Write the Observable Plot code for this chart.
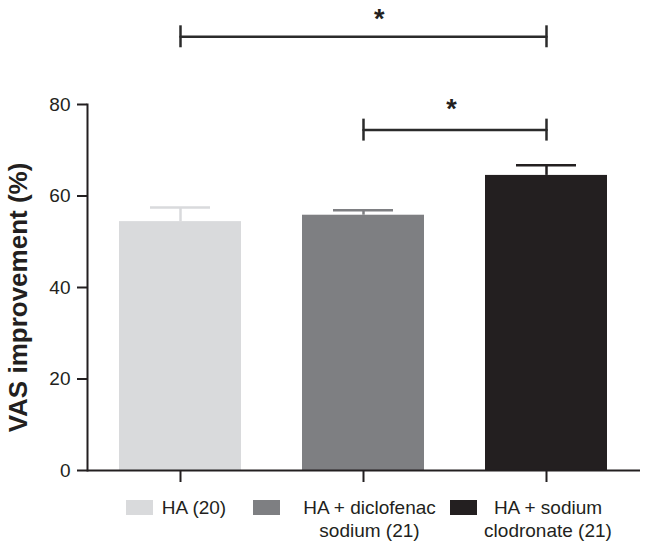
<!DOCTYPE html>
<html>
<head>
<meta charset="utf-8">
<script src="https://cdn.jsdelivr.net/npm/d3@7"></script>
<script src="https://cdn.jsdelivr.net/npm/@observablehq/plot@0.6"></script>
<style>
  html, body { margin: 0; padding: 0; background: #fff; }
  #wrap { position: relative; width: 648px; height: 550px; font-family: "Liberation Sans", Arial, sans-serif; color: #231f20; }
  #chart { position: absolute; left: 0; top: 0; }
  .sw { position: absolute; width: 27px; height: 15px; }
  .lt { position: absolute; font-size: 19px; line-height: 23px; white-space: nowrap; text-align: center; }
</style>
</head>
<body>
<div id="wrap">
  <div id="chart"></div>
  <div id="legend"></div>
</div>
<script>
// ---- data ----
const categories = ["HA (20)", "HA + diclofenac sodium (21)", "HA + sodium clodronate (21)"];
const legendLines = [["HA (20)"], ["HA + diclofenac", "sodium (21)"], ["HA + sodium", "clodronate (21)"]];
const means = [54.4, 55.8, 64.5];
const errors = [3.1, 1.1, 2.2];
const colors = ["#d9dadc", "#7e7f82", "#231f20"];
const yTicks = [0, 20, 40, 60, 80];
// significance brackets: from/to category index, bracket level, star label level,
// star position along the bracket (fraction of its span)
const sigFrom = [0, 1];
const sigTo = [2, 2];
const sigLevel = [94.8, 74.4];
const sigStar = [96.8, 77.0];
const sigStarPos = [0.54, 0.478];

// ---- layout ----
const W = 648, H = 490;
const mL = 87, mR = 8, mT = 104, mB = 20;
const padIn = 0.332, padOut = 0.169;
const step = (W - mL - mR) / (categories.length - padIn + 2 * padOut);

const bars = categories.map((c, i) => ({cat: c, mean: means[i], err: errors[i], color: colors[i]}));
const bracketLines = [];
const bracketEnds = [];
const starMarks = [];
sigFrom.forEach((f, k) => {
  const t = sigTo[k];
  bracketLines.push({id: k, cat: categories[f], y: sigLevel[k]});
  bracketLines.push({id: k, cat: categories[t], y: sigLevel[k]});
  bracketEnds.push({cat: categories[f], y: sigLevel[k]});
  bracketEnds.push({cat: categories[t], y: sigLevel[k]});
  starMarks.push(Plot.text([{cat: categories[f], y: sigStar[k]}], {
    x: "cat", y: "y", text: () => "*", dx: sigStarPos[k] * (t - f) * step,
    fontSize: 27, fontWeight: "bold", fill: "#231f20", lineAnchor: "bottom"
  }));
});

const ink = "#231f20";

const plot = Plot.plot({
  width: W,
  height: H,
  marginLeft: mL,
  marginRight: mR,
  marginTop: mT,
  marginBottom: mB,
  style: {fontFamily: "'Liberation Sans', Arial, sans-serif", color: ink, background: "#fff", overflow: "visible"},
  x: {domain: categories, paddingInner: padIn, paddingOuter: padOut, axis: null},
  y: {domain: [0, 80], axis: null},
  marks: [
    Plot.barY(bars, {x: "cat", y: "mean", fill: "color"}),
    // error bars
    Plot.ruleX(bars, {x: "cat", y1: "mean", y2: d => d.mean + d.err, stroke: "color", strokeWidth: 2.5}),
    Plot.tickY(bars, {x: "cat", y: d => d.mean + d.err, stroke: "color", strokeWidth: 2.5, insetLeft: 31, insetRight: 31}),
    // axes
    Plot.axisY({ticks: yTicks, tickSize: 10, tickPadding: 7, fontSize: 19, label: null, stroke: ink, strokeWidth: 2, color: ink}),
    Plot.frame({anchor: "left", stroke: ink, strokeWidth: 2}),
    Plot.ruleY([0], {stroke: ink, strokeWidth: 2}),
    Plot.axisX({tickSize: 12, tickFormat: () => "", label: null, stroke: ink, strokeWidth: 2}),
    // y label
    Plot.text(["VAS improvement (%)"], {frameAnchor: "left", rotate: -90, dx: -69, dy: 10, fontSize: 26, fontWeight: "bold", fill: ink, lineAnchor: "middle", textAnchor: "middle"}),
    // significance brackets
    Plot.line(bracketLines, {x: "cat", y: "y", z: "id", stroke: "#2b2b2b", strokeWidth: 2.5}),
    Plot.ruleX(bracketEnds, {x: "cat", y1: d => d.y - 2.4, y2: d => d.y + 2.4, stroke: "#2b2b2b", strokeWidth: 2.5}),
    ...starMarks
  ]
});
document.getElementById("chart").appendChild(plot);

// ---- legend (HTML below the plot) ----
const legendSwatchLeft = [126, 253, 450];
const legendTextCenter = [194, 369.5, 548];
const legend = document.getElementById("legend");
legendLines.forEach((lines, i) => {
  const sw = document.createElement("div");
  sw.className = "sw";
  sw.style.left = legendSwatchLeft[i] + "px";
  sw.style.top = "500px";
  sw.style.background = colors[i];
  legend.appendChild(sw);
  const tx = document.createElement("div");
  tx.className = "lt";
  tx.style.width = "180px";
  tx.style.left = (legendTextCenter[i] - 90) + "px";
  tx.style.top = "496px";
  tx.innerHTML = lines.join("<br>");
  legend.appendChild(tx);
});
</script>
</body>
</html>
